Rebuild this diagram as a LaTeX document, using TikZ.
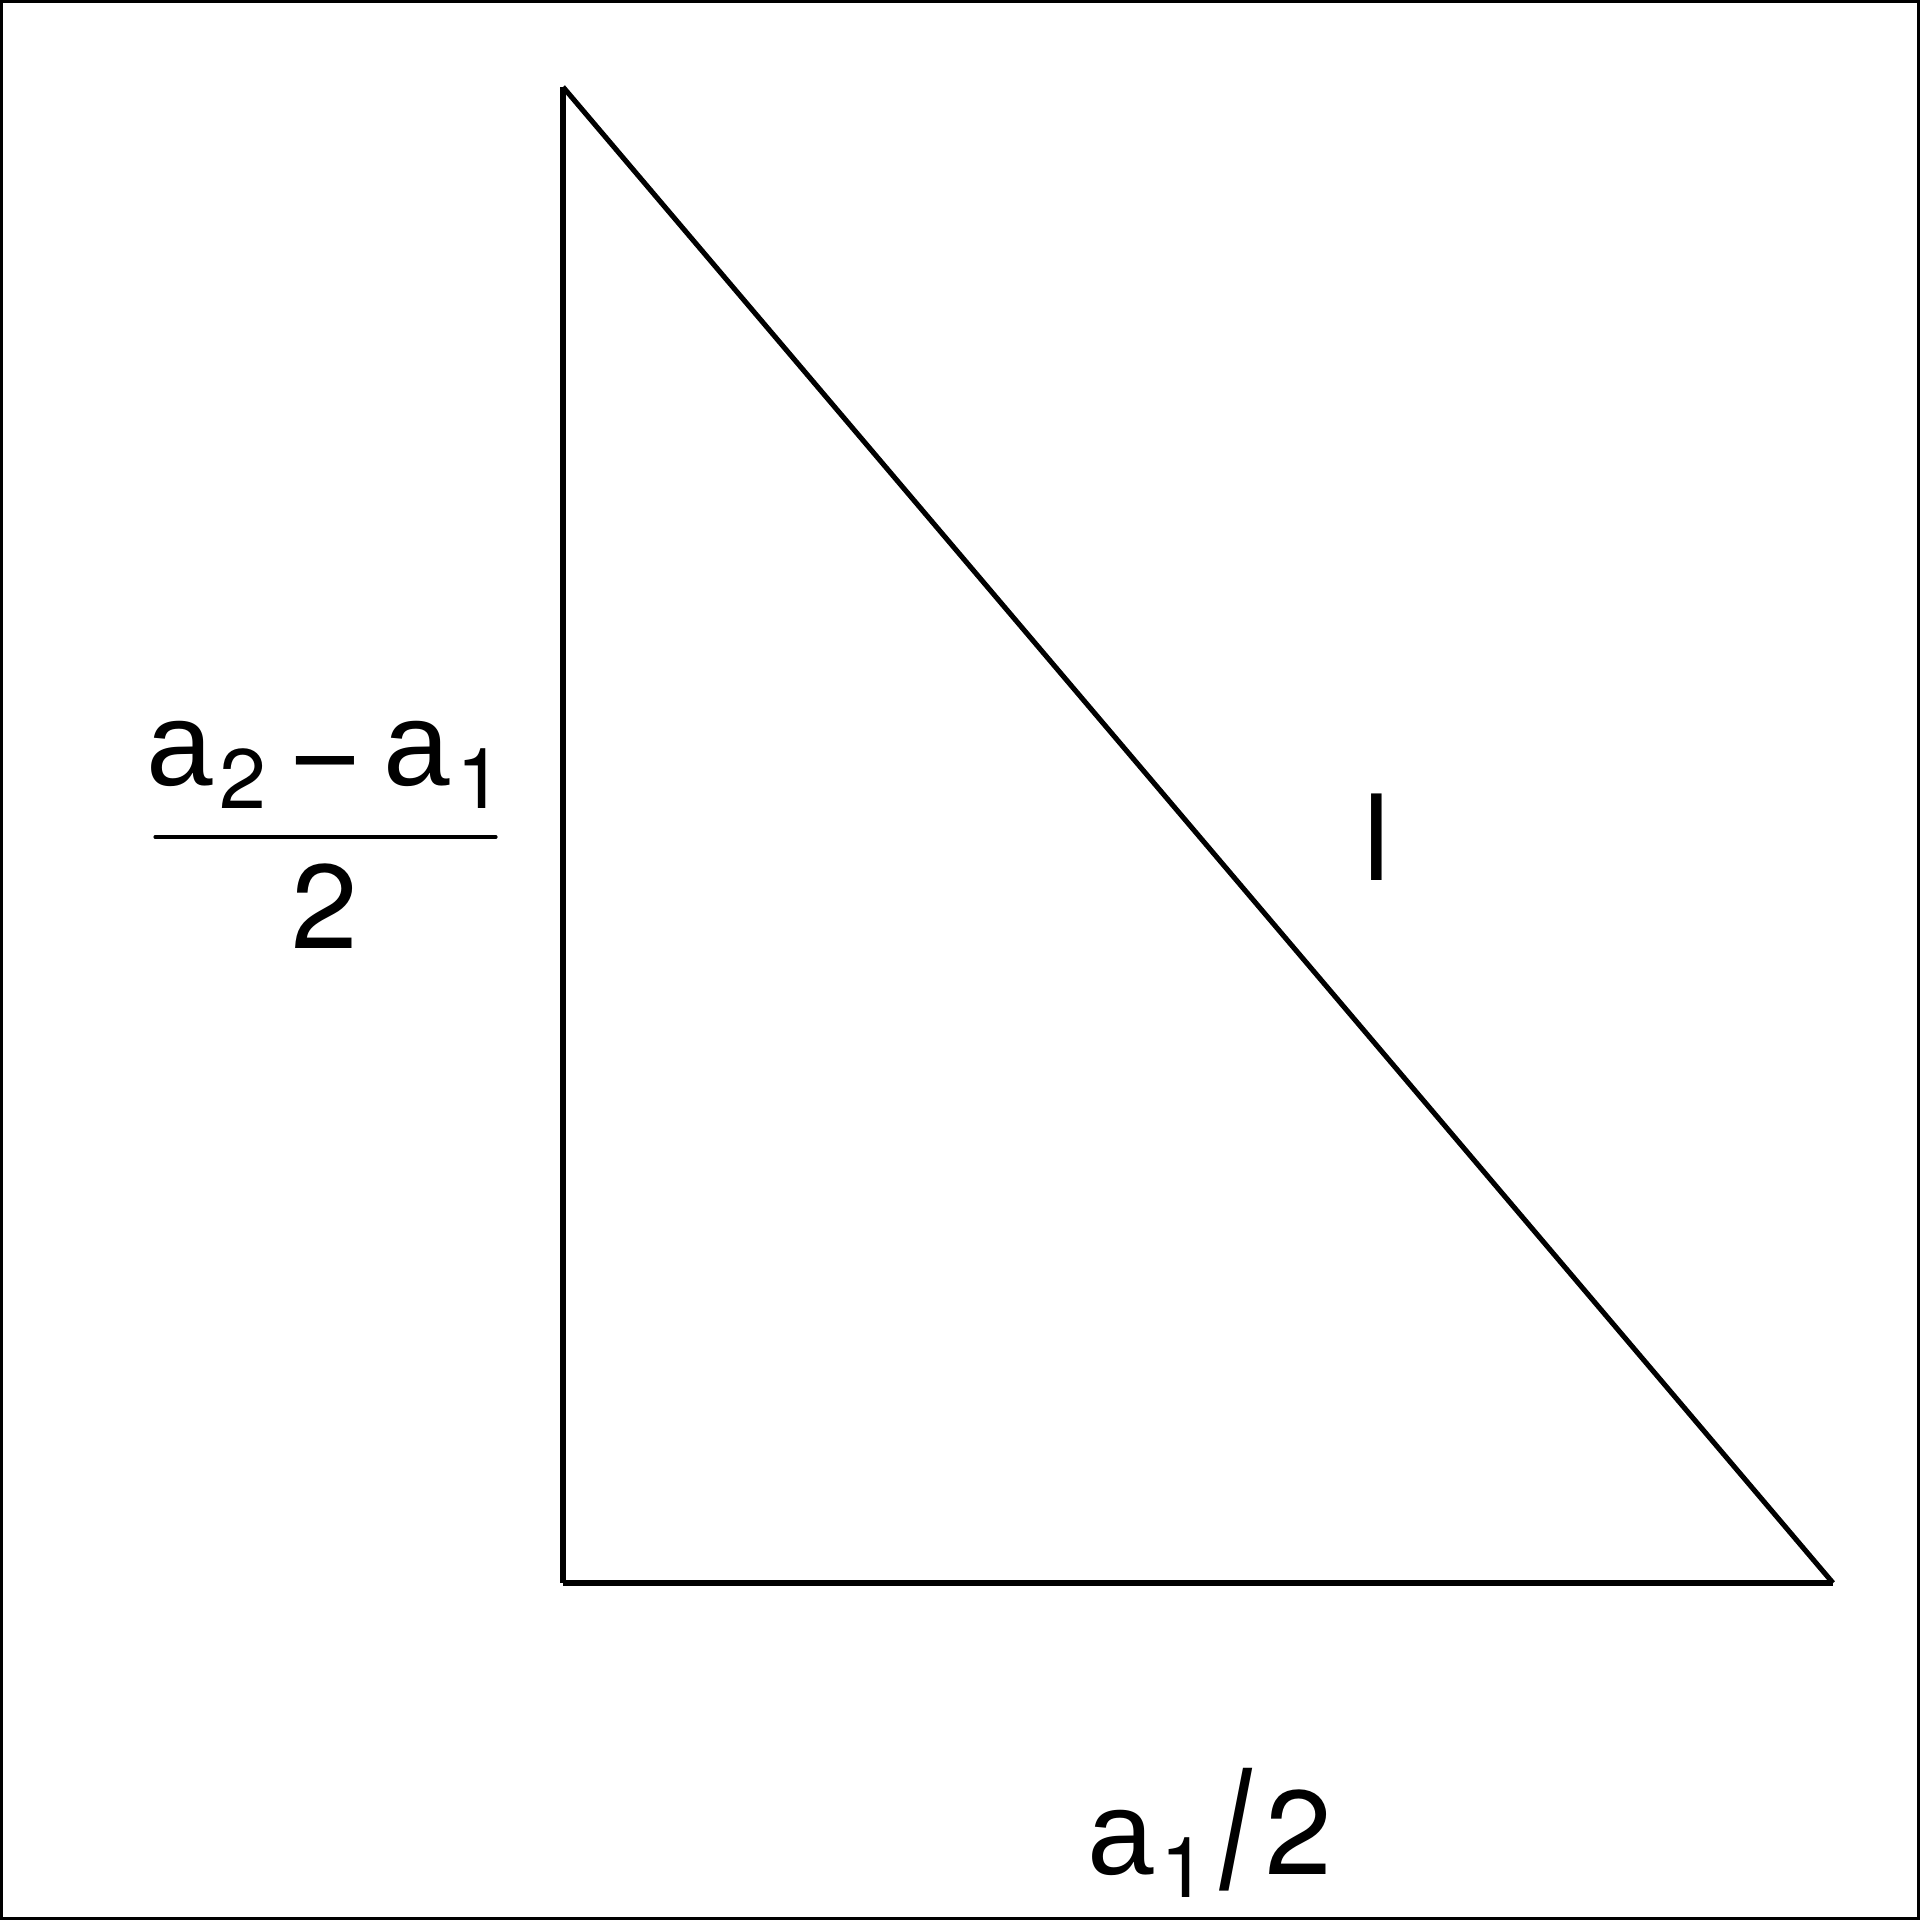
\documentclass[tikz,border=0pt]{standalone}
\usepackage{fontspec}
\setmainfont{Liberation Sans}
\newfontfamily\digfont{TeX Gyre Heros}
\usepackage{tikz}
\usetikzlibrary{positioning}

\newcommand{\bigtxt}{\fontsize{34}{40}\selectfont}
\newcommand{\subtxt}[1]{\hspace{1.7pt}\raisebox{-6.3pt}{\fontsize{24}{24}\selectfont\digfont #1}}
\newcommand{\mns}{\raisebox{-4pt}{−}}

\begin{document}
\begin{tikzpicture}[x=1cm, y=1cm,
	side/.style={draw, line width=1.45pt},
	lbl/.style={inner sep=0pt, anchor=base, font=\bigtxt}]

\useasboundingbox (0,0) rectangle (19.2,19.2);
\draw [line width=0.85pt] (0.015,0.015) rectangle (19.185,19.185);

% corners of the triangle
\coordinate (top)   at (5.63, 18.33);
\coordinate (left)  at (5.63, 3.37);
\coordinate (right) at (18.33, 3.37);

\path [side] (top)  edge (left);
\path [side] (left) edge (right);
\path [side] (right) edge (top);

% hypotenuse
\node [lbl] (hyp) at (13.77, 10.39) {l};

% vertical side
\node [lbl] (num) at (3.25, 11.34) {a\subtxt{2}\hspace{0.2em}\mns\hspace{0.2em}a\subtxt{1}};
\coordinate (barl) at (1.55, 10.83);
\coordinate (barr) at (4.96, 10.83);
\draw [line width=0.9pt, line cap=round] (barl) -- (barr);
\node [lbl] (den) at (3.245, 9.71) {\digfont 2};

% horizontal side
\node [lbl] (base) at (12.10, 0.45) {a\subtxt{1}\hspace{0.1em}\raisebox{-4pt}{\scalebox{1}[1.4]{/}}\hspace{3.8pt}\digfont 2};

\end{tikzpicture}
\end{document}
